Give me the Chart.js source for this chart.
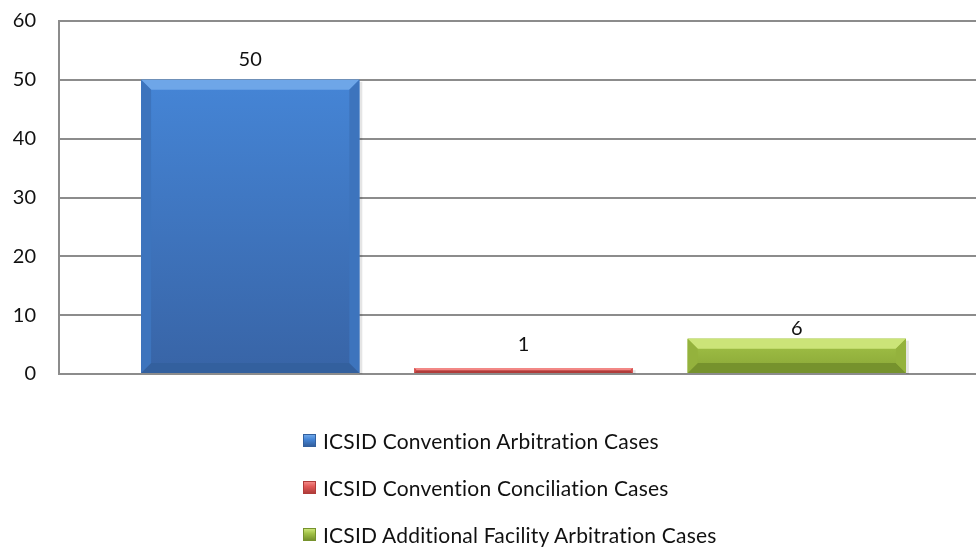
<!DOCTYPE html>
<html>
<head>
<meta charset="utf-8">
<script src="https://cdn.jsdelivr.net/npm/chart.js@4.4.1/dist/chart.umd.min.js"></script>
<style>
  html, body { margin: 0; padding: 0; background: #fff; overflow: hidden; }
  #wrap { position: relative; width: 976px; height: 548px; overflow: hidden; }
  #box { position: absolute; left: 0; top: -14px; width: 988px; height: 562px; }
  #legend { position: absolute; left: 303px; top: 0; font-family: Lato, "Open Sans", sans-serif; font-size: 21px; letter-spacing: 0.2px; color: #111; }
  .item { position: absolute; left: 0; white-space: nowrap; display: flex; align-items: center; height: 26px; }
  .sw { width: 13px; height: 13px; margin-right: 7px; box-sizing: border-box; }
</style>
</head>
<body>
<div id="wrap">
  <div id="box"><canvas id="chart"></canvas></div>
  <div id="legend"></div>
</div>
<script>
const categories = [''];
const seriesNames = [
  'ICSID Convention Arbitration Cases',
  'ICSID Convention Conciliation Cases',
  'ICSID Additional Facility Arbitration Cases',
];
const arbitrationCases = [50];
const conciliationCases = [1];
const additionalFacilityCases = [6];
const yTicks = [0, 10, 20, 30, 40, 50, 60];

const palettes = [
  { top: '#4585d6', bottom: '#3864a6', light: '#6ea6e8', dark: '#33609e', side: '#3d74bd' },
  { top: '#e25a58', bottom: '#c94644', light: '#f28886', dark: '#b03c3a', side: '#d04e4c' },
  { top: '#a2c247', bottom: '#89a636', light: '#cbe478', dark: '#76922d', side: '#94b23d' },
];
const labelOffsets = [20, 24, 10];

const bevelPlugin = {
  id: 'bevel',
  afterDatasetsDraw(chart) {
    const ctx = chart.ctx;
    chart.data.datasets.forEach((ds, i) => {
      const p = palettes[i];
      chart.getDatasetMeta(i).data.forEach((bar) => {
        const x0 = bar.x - bar.width / 2;
        const x1 = bar.x + bar.width / 2;
        const y0 = bar.y;
        const y1 = bar.base;
        const h = y1 - y0;
        const b = Math.min(10, h / 2);
        ctx.save();
        ctx.fillStyle = 'rgba(0,0,0,0.10)';
        ctx.fillRect(x1, y0 + 2, 3, h - 1);
        const g = ctx.createLinearGradient(0, y0, 0, y1);
        g.addColorStop(0, p.top);
        g.addColorStop(1, p.bottom);
        ctx.fillStyle = g;
        ctx.fillRect(x0, y0, x1 - x0, h);
        ctx.fillStyle = p.light;
        ctx.beginPath();
        ctx.moveTo(x0, y0); ctx.lineTo(x1, y0); ctx.lineTo(x1 - b, y0 + b); ctx.lineTo(x0 + b, y0 + b);
        ctx.closePath(); ctx.fill();
        ctx.fillStyle = p.dark;
        ctx.beginPath();
        ctx.moveTo(x0, y1); ctx.lineTo(x1, y1); ctx.lineTo(x1 - b, y1 - b); ctx.lineTo(x0 + b, y1 - b);
        ctx.closePath(); ctx.fill();
        ctx.fillStyle = p.side;
        ctx.beginPath();
        ctx.moveTo(x0, y0); ctx.lineTo(x0 + b, y0 + b); ctx.lineTo(x0 + b, y1 - b); ctx.lineTo(x0, y1);
        ctx.closePath(); ctx.fill();
        ctx.beginPath();
        ctx.moveTo(x1, y0); ctx.lineTo(x1 - b, y0 + b); ctx.lineTo(x1 - b, y1 - b); ctx.lineTo(x1, y1);
        ctx.closePath(); ctx.fill();
        ctx.fillStyle = '#111';
        ctx.font = '20px Lato, "Open Sans", sans-serif';
        ctx.textAlign = 'center';
        ctx.textBaseline = 'middle';
        ctx.fillText(String(ds.data[0]), bar.x, y0 - labelOffsets[i]);
        ctx.restore();
      });
    });
  },
};

const seriesValues = [arbitrationCases, conciliationCases, additionalFacilityCases];

new Chart(document.getElementById('chart'), {
  type: 'bar',
  data: {
    labels: categories,
    datasets: seriesValues.map((vals, i) => ({
      label: seriesNames[i],
      data: vals,
      backgroundColor: palettes[i].top,
      borderWidth: 0,
      categoryPercentage: 0.8825,
      barPercentage: 0.7985,
    })),
  },
  options: {
    responsive: true,
    maintainAspectRatio: false,
    animation: false,
    events: [],
    layout: { padding: { top: 6, bottom: 174, left: 0, right: 0 } },
    plugins: { legend: { display: false }, tooltip: { enabled: false } },
    scales: {
      x: { display: false },
      y: {
        min: 0,
        max: 60,
        afterBuildTicks: (s) => { s.ticks = yTicks.map((v) => ({ value: v })); },
        afterFit: (s) => { s.width = 59; },
        ticks: {
          padding: 23,
          color: '#111',
          font: { family: 'Lato, "Open Sans", sans-serif', size: 20 },
        },
        grid: { color: '#8c8c8c', lineWidth: 2, drawTicks: false },
        border: { display: true, color: '#8c8c8c', width: 2 },
      },
    },
  },
  plugins: [bevelPlugin],
});

const legendRows = [440, 487, 534];
const legend = document.getElementById('legend');
seriesNames.forEach((name, i) => {
  const p = palettes[i];
  const row = document.createElement('div');
  row.className = 'item';
  row.style.top = (legendRows[i] - 13) + 'px';
  row.innerHTML = '<div class="sw" style="background:linear-gradient(' + p.light + ',' + p.top + ' 40%,' + p.dark + ');border:1px solid ' + p.dark + '"></div><span>' + name + '</span>';
  legend.appendChild(row);
});
</script>
</body>
</html>
